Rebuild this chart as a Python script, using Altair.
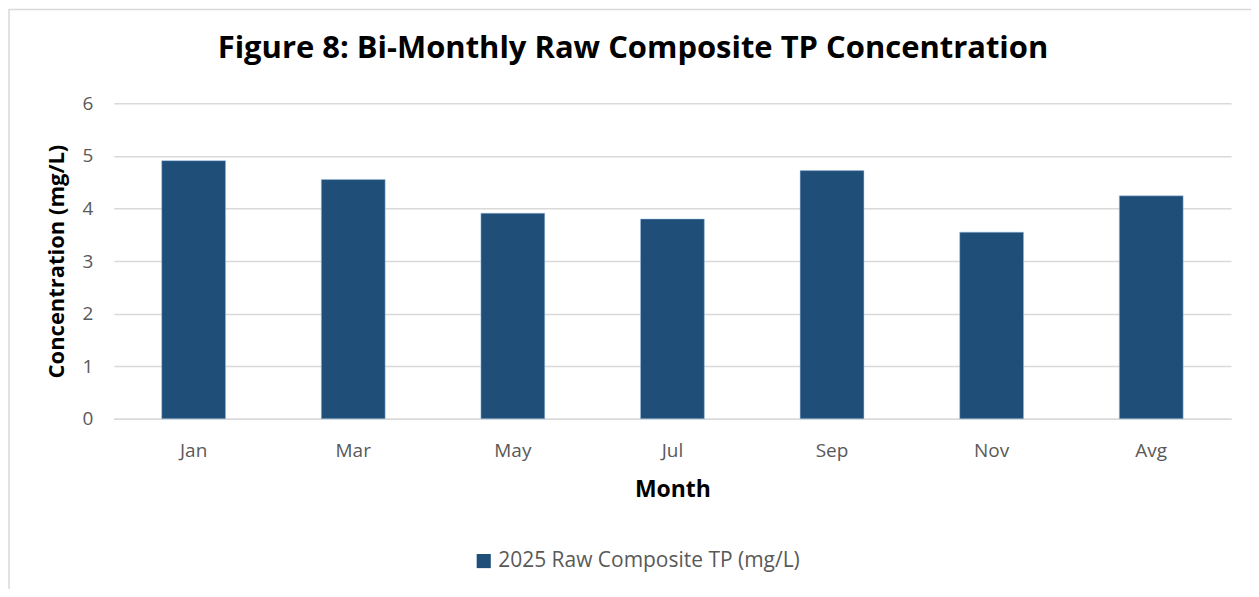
import altair as alt
import pandas as pd

months = ["Jan", "Mar", "May", "Jul", "Sep", "Nov", "Avg"]
values = [4.91, 4.55, 3.91, 3.80, 4.72, 3.55, 4.24]
series = ["2025 Raw Composite TP (mg/L)"] * len(months)
title_text = ["Figure 8: Bi-Monthly Raw Composite TP Concentration"]

df = pd.DataFrame({"Month": months, "Value": values, "Series": series})

FONT = "Open Sans"
W, H = 1119, 316

bars = alt.Chart(df).mark_bar(stroke="#9dc3e6", strokeWidth=0.5).encode(
    x=alt.X("Month:N", sort=months,
            scale=alt.Scale(paddingInner=0.6, paddingOuter=0.3),
            axis=alt.Axis(title="Month", labelAngle=0, labelFont=FONT, labelFontSize=19,
                          labelColor="#595959", labelPadding=23, ticks=False,
                          domainColor="#d9d9d9", domainWidth=1.5,
                          titleFont=FONT, titleFontSize=23, titleFontWeight="bold",
                          titleColor="#000000", titlePadding=18)),
    y=alt.Y("Value:Q", scale=alt.Scale(domain=[0, 6], nice=False),
            axis=alt.Axis(title="Concentration (mg/L)", values=[0, 1, 2, 3, 4, 5, 6],
                          labelFont=FONT, labelFontSize=19, labelColor="#595959",
                          labelPadding=21, ticks=False, domain=False,
                          gridColor="#d9d9d9", gridWidth=1.5,
                          titleFont=FONT, titleFontSize=22, titleFontWeight="bold",
                          titleColor="#000000", titlePadding=14)),
    color=alt.Color("Series:N", scale=alt.Scale(range=["#1f4e79"]),
                    legend=alt.Legend(title=None, orient="none", legendX=360, legendY=448,
                                      symbolType="square", symbolSize=200,
                                      symbolStrokeWidth=0, labelLimit=0,
                                      labelFont=FONT, labelFontSize=21,
                                      labelColor="#595959")),
)

border = alt.Chart(pd.DataFrame({"a": [0]})).mark_rect(
    fill=None, stroke="#d9d9d9", strokeWidth=1.5
).encode(
    x=alt.value(-105), x2=alt.value(W + 60), y=alt.value(-94), y2=alt.value(H + 300)
)

title = alt.Chart(pd.DataFrame({"t": title_text})).mark_text(
    font=FONT, fontSize=31, fontWeight="bold", color="#000000",
    align="center", baseline="middle"
).encode(text="t:N", x=alt.value(520), y=alt.value(-54))

chart = alt.layer(border, title, bars).properties(
    width=W, height=H,
    padding={"left": 106, "top": 95, "right": 20, "bottom": 170},
    autosize=alt.AutoSizeParams(type="none"),
).configure_view(stroke=None)

chart.save("out.html", embed_options={"renderer": "svg", "actions": False})
